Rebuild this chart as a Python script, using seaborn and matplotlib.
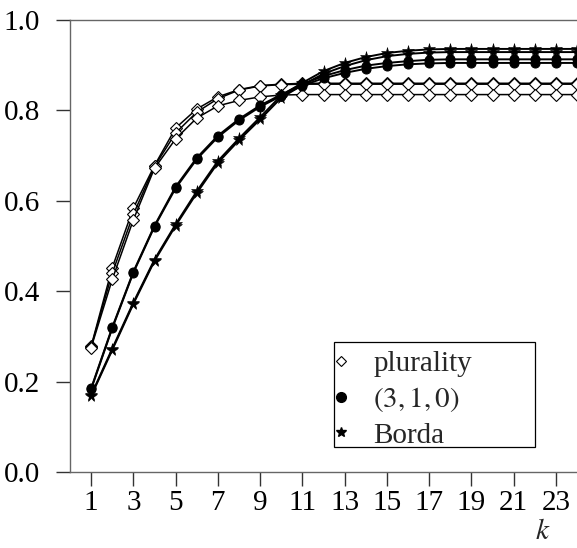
import matplotlib
matplotlib.use("Agg")
import matplotlib.pyplot as plt
import seaborn as sns
from matplotlib.lines import Line2D
from matplotlib.patches import Rectangle

# k values (committee size)
k_values = list(range(1, 25))

# plurality (open diamonds), three runs
plurality_a = [0.278, 0.452, 0.584, 0.678, 0.761, 0.803, 0.830, 0.846, 0.855, 0.858,
               0.860, 0.860, 0.860, 0.860, 0.860, 0.860, 0.860, 0.860, 0.860, 0.860,
               0.860, 0.860, 0.860, 0.860]
plurality_b = [0.277, 0.440, 0.570, 0.676, 0.750, 0.796, 0.826, 0.845, 0.854, 0.857,
               0.858, 0.858, 0.858, 0.858, 0.858, 0.858, 0.858, 0.858, 0.858, 0.858,
               0.858, 0.858, 0.858, 0.858]
plurality_c = [0.275, 0.426, 0.558, 0.672, 0.737, 0.783, 0.810, 0.822, 0.830, 0.834,
               0.835, 0.835, 0.835, 0.835, 0.835, 0.835, 0.835, 0.835, 0.835, 0.835,
               0.835, 0.835, 0.835, 0.835]

# (3,1,0) rule (filled circles), two runs
rule310_a = [0.185, 0.320, 0.443, 0.545, 0.631, 0.695, 0.744, 0.781, 0.811, 0.835,
             0.858, 0.876, 0.889, 0.899, 0.905, 0.909, 0.912, 0.913, 0.913, 0.913,
             0.913, 0.913, 0.913, 0.913]
rule310_b = [0.183, 0.318, 0.441, 0.543, 0.628, 0.692, 0.741, 0.778, 0.808, 0.832,
             0.855, 0.871, 0.883, 0.892, 0.898, 0.902, 0.904, 0.905, 0.905, 0.905,
             0.905, 0.905, 0.905, 0.905]

# Borda (stars), two runs
borda_a = [0.170, 0.273, 0.375, 0.470, 0.548, 0.621, 0.688, 0.738, 0.785, 0.833,
           0.861, 0.887, 0.905, 0.918, 0.927, 0.932, 0.935, 0.936, 0.936, 0.936,
           0.936, 0.936, 0.936, 0.936]
borda_b = [0.168, 0.270, 0.372, 0.467, 0.545, 0.617, 0.684, 0.734, 0.780, 0.828,
           0.856, 0.881, 0.898, 0.911, 0.920, 0.925, 0.928, 0.929, 0.929, 0.929,
           0.929, 0.929, 0.929, 0.929]

legend_labels = ["plurality", "$(3,1,0)$", "Borda"]

sns.set_style("ticks")
plt.rcParams["font.family"] = "serif"
plt.rcParams["font.serif"] = ["Liberation Serif", "DejaVu Serif"]
plt.rcParams["mathtext.fontset"] = "stix"

fig = plt.figure(figsize=(5.77, 5.48), dpi=100)
ax = fig.add_axes([70 / 577, 76 / 548, 507 / 577, 452 / 548])

diamond = dict(marker="D", markersize=6.3, markerfacecolor="white",
               markeredgecolor="black", markeredgewidth=0.8)
circle = dict(marker="o", markersize=6.5, markerfacecolor="black", markeredgecolor="black")
star = dict(marker="*", markersize=8.5, markerfacecolor="black",
            markeredgecolor="black", markeredgewidth=0.4)

series = [
    (plurality_a, diamond, 1.1), (plurality_b, diamond, 1.1), (plurality_c, diamond, 1.1),
    (rule310_a, circle, 1.4), (rule310_b, circle, 1.4),
    (borda_a, star, 1.4), (borda_b, star, 1.4),
]
for vals, style, lw in series:
    sns.lineplot(x=k_values, y=vals, color="black", linewidth=lw, ax=ax,
                 legend=False, **style)

ax.set_xlim(0, 24)
ax.set_ylim(0, 1.0)
ax.set_xticks(list(range(1, 24, 2)))
ax.set_yticks([0.0, 0.2, 0.4, 0.6, 0.8, 1.0])
ax.set_yticklabels(["0.0", "0.2", "0.4", "0.6", "0.8", "1.0"])

for side in ["left", "bottom", "top"]:
    ax.spines[side].set_color("0.4")
    ax.spines[side].set_linewidth(1.0)
ax.spines["right"].set_visible(False)
ax.tick_params(axis="both", direction="out", length=10, width=1.0, color="0.2",
               labelsize=21, labelcolor="black")
ax.tick_params(axis="y", pad=11.5)
ax.tick_params(axis="x", pad=3)

ax.set_xlabel("$k$", fontsize=21)
ax.xaxis.set_label_coords(0.933, -0.103)

# legend: markers hugging the left edge of a wide box
box = Rectangle(((334 - 70) / 507, (472 - 447) / 452), 201 / 507, 105 / 452,
                transform=ax.transAxes, facecolor="white", edgecolor="black",
                linewidth=0.9, zorder=5)
ax.add_patch(box)
handles = [
    Line2D([], [], linestyle="none", marker="D", markersize=5, markerfacecolor="white",
           markeredgecolor="black", markeredgewidth=0.8),
    Line2D([], [], linestyle="none", marker="o", markersize=7, color="black"),
    Line2D([], [], linestyle="none", marker="*", markersize=7.5, color="black"),
]
leg = ax.legend(handles, legend_labels,
                loc="upper left", bbox_to_anchor=((340 - 70) / 507 - 0.012, (472 - 351) / 452),
                fontsize=21, frameon=False,
                handlelength=0.5, handletextpad=0.85, borderpad=0.0,
                borderaxespad=0.0, labelspacing=0.27)
leg.set_zorder(6)

fig.savefig("out.png", dpi=100)
